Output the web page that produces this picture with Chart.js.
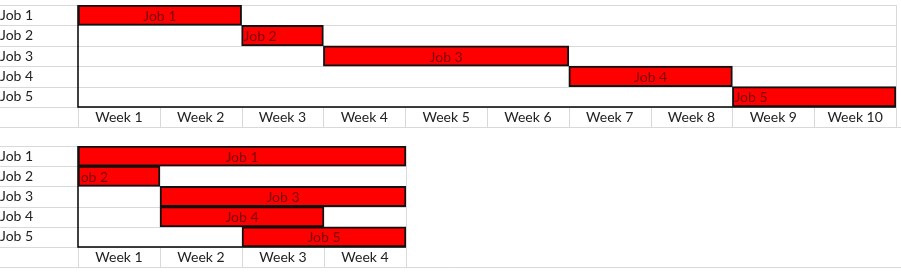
<!DOCTYPE html>
<html>
<head>
<meta charset="utf-8">
<script src="https://cdn.jsdelivr.net/npm/chart.js@4/dist/chart.umd.min.js"></script>
<style>
  html, body { margin: 0; padding: 0; background: #fff; }
  #wrap { position: relative; width: 901px; height: 278px; overflow: hidden; }
  .box { position: absolute; left: 0; width: 901px; }
  #box1 { top: 0; height: 130px; }
  #box2 { top: 130px; height: 148px; }
</style>
</head>
<body>
<div id="wrap">
  <div class="box" id="box1"><canvas id="chartTop"></canvas></div>
  <div class="box" id="box2"><canvas id="chartBottom"></canvas></div>
</div>
<script>
// --- données ---
const jobs = ['Job 1', 'Job 2', 'Job 3', 'Job 4', 'Job 5'];

// planning 1 : 10 semaines
const weeksTop = ['Week 1', 'Week 2', 'Week 3', 'Week 4', 'Week 5', 'Week 6', 'Week 7', 'Week 8', 'Week 9', 'Week 10'];
const topStart = [0, 2, 3, 6, 8];
const topEnd = [2, 3, 6, 8, 10];

// planning 2 : 4 semaines
const weeksBottom = ['Week 1', 'Week 2', 'Week 3', 'Week 4'];
const bottomStart = [0, 0, 1, 1, 2];
const bottomEnd = [4, 1, 4, 3, 4];

const FONT = 'Lato, "Open Sans", sans-serif';
const GRID = '#d9d9d9';

// quadrillage façon tableur
const sheetGrid = {
  id: 'sheetGrid',
  beforeDatasetsDraw(chart) {
    const ctx = chart.ctx;
    const ca = chart.chartArea;
    const x = chart.scales.x, y = chart.scales.y;
    ctx.save();
    ctx.lineWidth = 1;
    ctx.strokeStyle = GRID;
    ctx.beginPath();
    // lignes de rangées
    for (let i = 0; i <= jobs.length; i++) {
      const py = Math.round(y.getPixelForValue(i - 0.5)) + 0.5;
      ctx.moveTo(0, py);
      ctx.lineTo(ca.right, py);
    }
    // bas de la ligne d'en-tête
    const hb = Math.round(x.bottom) + 0.5;
    ctx.moveTo(0, hb);
    ctx.lineTo(chart.width, hb);
    // bord droit
    const rx = Math.round(ca.right) + 0.5;
    ctx.moveTo(rx, ca.top);
    ctx.lineTo(rx, x.bottom);
    // séparateurs des semaines
    for (let k = 0; k <= x.max; k++) {
      const px = Math.round(x.getPixelForValue(k)) + 0.5;
      ctx.moveTo(px, ca.bottom);
      ctx.lineTo(px, x.bottom);
    }
    ctx.stroke();

    // axes noirs
    ctx.strokeStyle = '#000';
    ctx.lineWidth = 1.5;
    ctx.beginPath();
    ctx.moveTo(ca.left, ca.top);
    ctx.lineTo(ca.left, ca.bottom);
    ctx.lineTo(ca.right, ca.bottom);
    ctx.stroke();
    ctx.restore();
  }
};

// texte dans les barres
const barText = {
  id: 'barText',
  afterDatasetsDraw(chart, args, opts) {
    const ctx = chart.ctx;
    const meta = chart.getDatasetMeta(0);
    ctx.save();
    ctx.font = '14px ' + FONT;
    ctx.fillStyle = '#7a0000';
    ctx.textBaseline = 'middle';
    meta.data.forEach((bar, i) => {
      const left = Math.min(bar.x, bar.base);
      const right = Math.max(bar.x, bar.base);
      const align = (opts.align && opts.align[i]) || 'center';
      ctx.save();
      ctx.beginPath();
      ctx.rect(left + 1, bar.y - bar.height / 2, right - left - 2, bar.height);
      ctx.clip();
      if (align === 'left') {
        ctx.textAlign = 'left';
        ctx.fillText(jobs[i], left + (opts.leftPad ? opts.leftPad[i] : 2), bar.y + 1);
      } else {
        ctx.textAlign = 'center';
        ctx.fillText(jobs[i], (left + right) / 2, bar.y + 1);
      }
      ctx.restore();
    });
    ctx.restore();
  }
};

function makeGantt(canvasId, weeks, starts, ends, pad, align, leftPad) {
  const ctx = document.getElementById(canvasId).getContext('2d');
  return new Chart(ctx, {
    type: 'bar',
    data: {
      labels: jobs,
      datasets: [{
        data: starts.map((s, i) => [s, ends[i]]),
        backgroundColor: '#ff0000',
        borderColor: '#111',
        borderWidth: 2,
        borderSkipped: false,
        barPercentage: 1,
        categoryPercentage: 1
      }]
    },
    options: {
      indexAxis: 'y',
      responsive: true,
      maintainAspectRatio: false,
      animation: false,
      layout: { padding: pad },
      scales: {
        x: {
          type: 'linear',
          min: 0,
          max: weeks.length,
          afterBuildTicks: (scale) => {
            scale.ticks = weeks.map((w, i) => ({ value: i + 0.5 }));
          },
          afterFit: (scale) => {
            scale.height = 20;
            scale.paddingLeft = 0;
            scale.paddingRight = 0;
          },
          grid: { display: false, drawTicks: false },
          border: { display: false },
          ticks: {
            autoSkip: false,
            maxRotation: 0,
            padding: 2,
            color: '#222',
            font: { family: FONT, size: 14 },
            callback: (v) => weeks[Math.round(v - 0.5)]
          }
        },
        y: {
          afterFit: (scale) => {
            scale.width = 78;
            scale.paddingTop = 0;
            scale.paddingBottom = 0;
          },
          grid: { display: false, drawTicks: false },
          border: { display: false },
          ticks: {
            autoSkip: false,
            crossAlign: 'far',
            padding: 0,
            color: '#222',
            font: { family: FONT, size: 14 }
          }
        }
      },
      plugins: {
        legend: { display: false },
        tooltip: { enabled: false },
        barText: { align: align, leftPad: leftPad }
      }
    },
    plugins: [sheetGrid, barText]
  });
}

makeGantt('chartTop', weeksTop, topStart, topEnd,
  { top: 5, right: 5, bottom: 3, left: 0 },
  ['center', 'left', 'center', 'center', 'left'], [2, 2, 2, 2, 2]);
makeGantt('chartBottom', weeksBottom, bottomStart, bottomEnd,
  { top: 16, right: 495, bottom: 11, left: 0 },
  ['center', 'left', 'center', 'center', 'center'], [2, -3, 2, 2, 2]);
</script>
</body>
</html>
